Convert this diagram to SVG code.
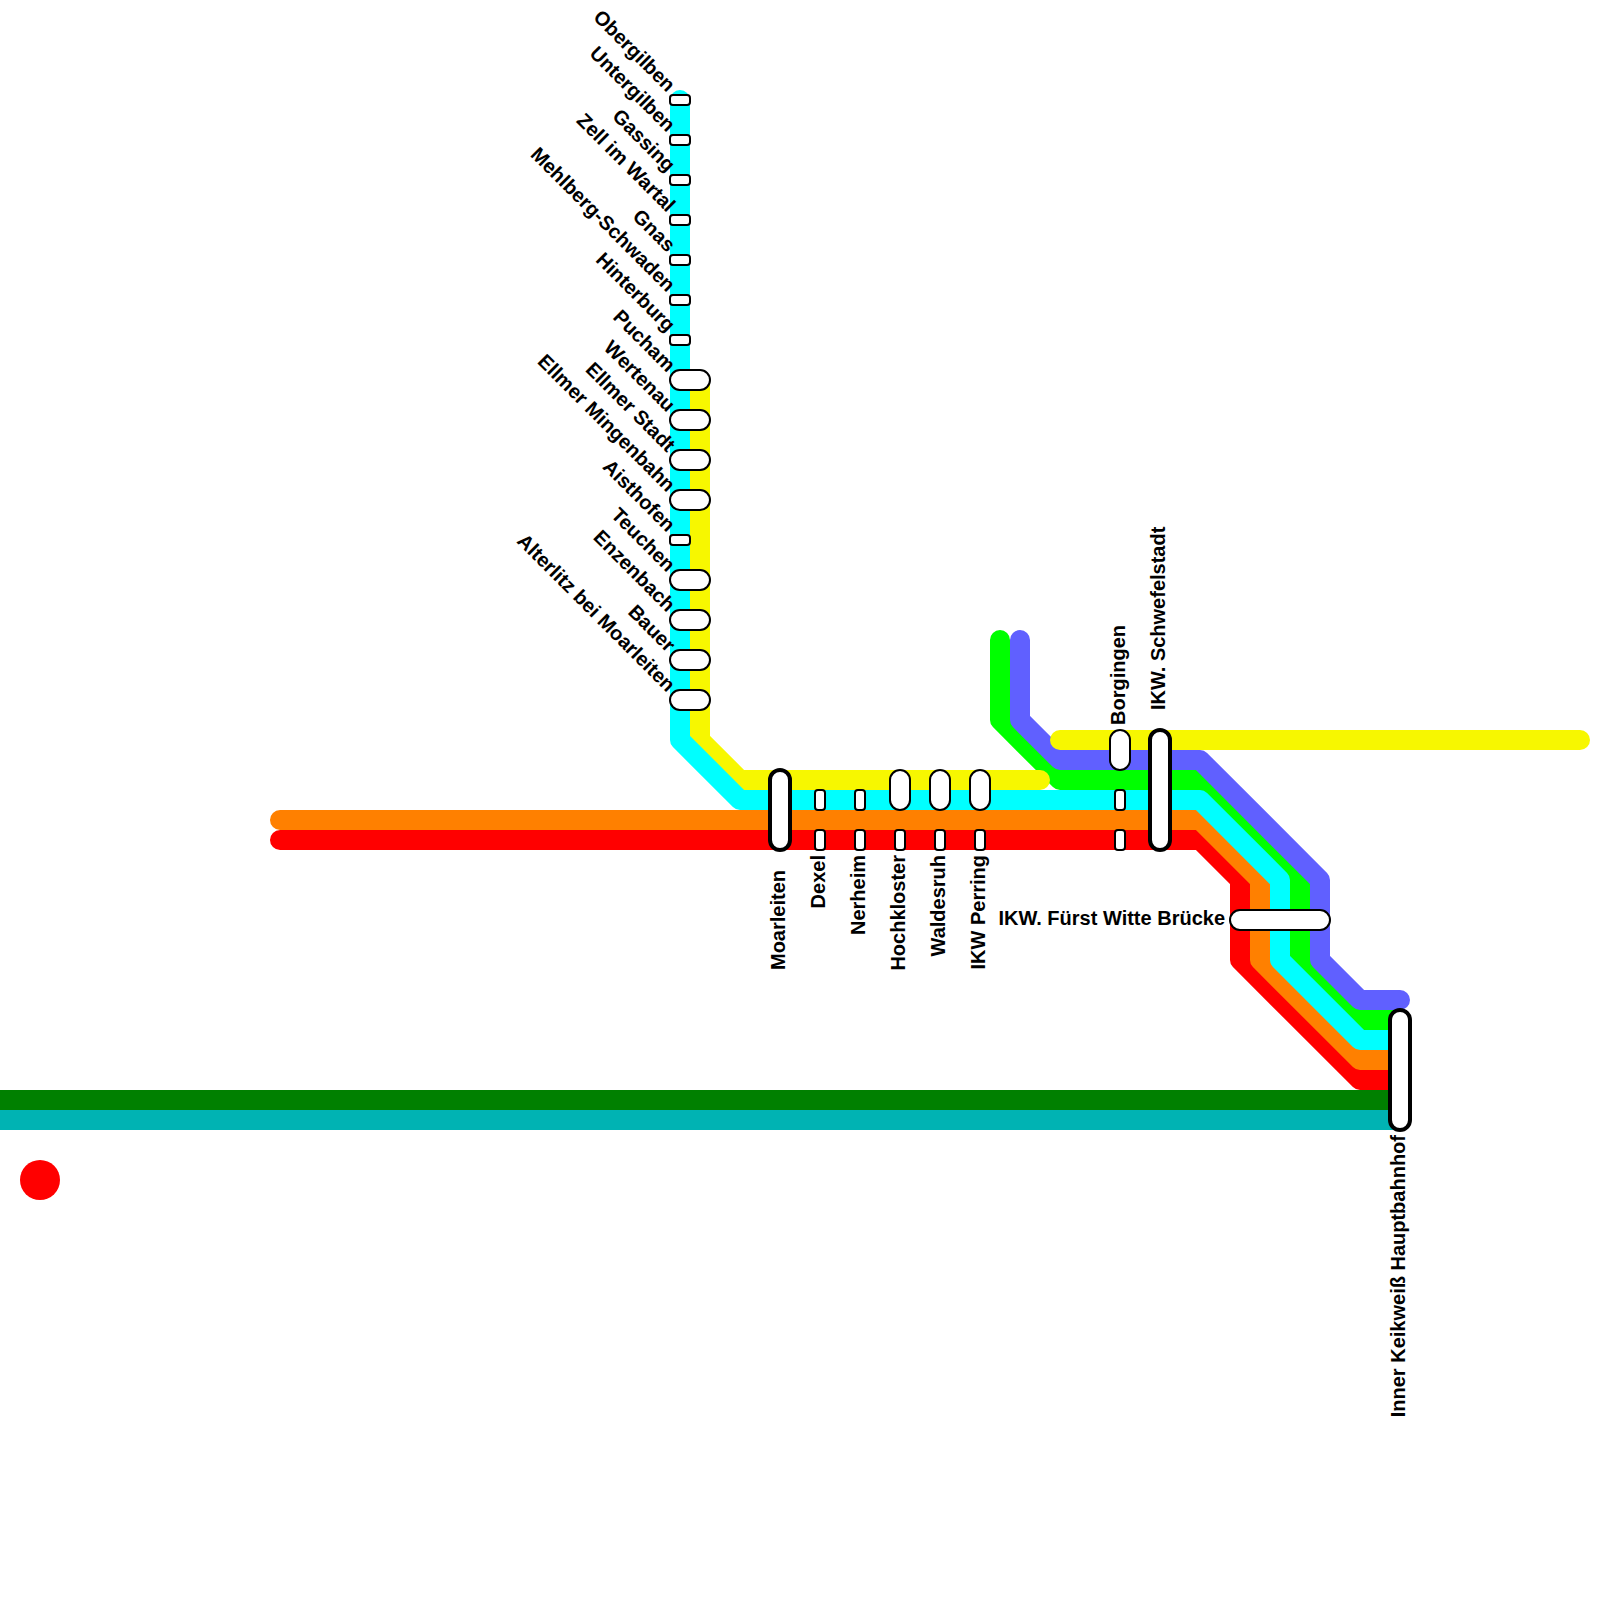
<svg xmlns="http://www.w3.org/2000/svg" width="1600" height="1600" viewBox="0 0 1600 1600">
<style>
.l{fill:none;stroke-width:20;stroke-linecap:round;stroke-linejoin:round}
.s{fill:#fff;stroke:#000;stroke-width:2}
.h{fill:#fff;stroke:#000;stroke-width:4}
text{font-family:"Liberation Sans",Arial,sans-serif;font-weight:700;font-size:20px;fill:#000}
.e{text-anchor:end}
</style>
<rect width="1600" height="1600" fill="#fff"/>
<g id="connectors">
<path class="l" stroke="#008000" style="stroke-linecap:butt" d="M0 1100H1400"/>
<path class="l" stroke="#00b3b3" style="stroke-linecap:butt" d="M0 1120H1400"/>
<path class="l" stroke="#f00" d="M280 840H1200L1240 880V960L1360 1080H1400"/>
<path class="l" stroke="#ff8000" d="M280 820H1200L1260 880V960L1360 1060H1400"/>
<path class="l" stroke="#0f0" d="M1000 640V720L1060 780H1200L1300 880V960L1360 1020H1400"/>
<path class="l" stroke="#f7f700" d="M700 380V740L740 780H1040"/>
<path class="l" stroke="#0ff" d="M680 100V740L740 800H1200L1280 880V960L1360 1040H1400"/>
<path class="l" stroke="#6060ff" d="M1020 640V720L1060 760H1200L1320 880V960L1360 1000H1400"/>
<path class="l" stroke="#f7f700" d="M1060 740H1580"/>
</g>
<circle id="marker-dot" cx="40" cy="1180" r="20" fill="#f00"/>
<g id="n-obergilben"><rect class="s" x="670" y="95" width="20" height="10" rx="3"/><text class="e" transform="translate(667 93) rotate(45)">Obergilben</text></g>
<g id="n-untergilben"><rect class="s" x="670" y="135" width="20" height="10" rx="3"/><text class="e" transform="translate(667 133) rotate(45)">Untergilben</text></g>
<g id="n-gassing"><rect class="s" x="670" y="175" width="20" height="10" rx="3"/><text class="e" transform="translate(667 173) rotate(45)">Gassing</text></g>
<g id="n-zell"><rect class="s" x="670" y="215" width="20" height="10" rx="3"/><text class="e" transform="translate(667 213) rotate(45)">Zell im Wartal</text></g>
<g id="n-gnas"><rect class="s" x="670" y="255" width="20" height="10" rx="3"/><text class="e" transform="translate(667 253) rotate(45)">Gnas</text></g>
<g id="n-mehlberg"><rect class="s" x="670" y="295" width="20" height="10" rx="3"/><text class="e" transform="translate(667 293) rotate(45)">Mehlberg-Schwaden</text></g>
<g id="n-hinterburg"><rect class="s" x="670" y="335" width="20" height="10" rx="3"/><text class="e" transform="translate(667 333) rotate(45)">Hinterburg</text></g>
<g id="n-pucham"><rect class="s" x="670" y="370" width="40" height="20" rx="10"/><text class="e" transform="translate(667 373) rotate(45)">Pucham</text></g>
<g id="n-wertenau"><rect class="s" x="670" y="410" width="40" height="20" rx="10"/><text class="e" transform="translate(667 413) rotate(45)">Wertenau</text></g>
<g id="n-ellmer-stadt"><rect class="s" x="670" y="450" width="40" height="20" rx="10"/><text class="e" transform="translate(667 453) rotate(45)">Ellmer Stadt</text></g>
<g id="n-ellmer-mingenbahn"><rect class="s" x="670" y="490" width="40" height="20" rx="10"/><text class="e" transform="translate(667 493) rotate(45)">Ellmer Mingenbahn</text></g>
<g id="n-aisthofen"><rect class="s" x="670" y="535" width="20" height="10" rx="3"/><text class="e" transform="translate(667 533) rotate(45)">Aisthofen</text></g>
<g id="n-teuchen"><rect class="s" x="670" y="570" width="40" height="20" rx="10"/><text class="e" transform="translate(667 573) rotate(45)">Teuchen</text></g>
<g id="n-enzenbach"><rect class="s" x="670" y="610" width="40" height="20" rx="10"/><text class="e" transform="translate(667 613) rotate(45)">Enzenbach</text></g>
<g id="n-bauer"><rect class="s" x="670" y="650" width="40" height="20" rx="10"/><text class="e" transform="translate(667 653) rotate(45)">Bauer</text></g>
<g id="n-alterlitz"><rect class="s" x="670" y="690" width="40" height="20" rx="10"/><text class="e" transform="translate(667 693) rotate(45)">Alterlitz bei Moarleiten</text></g>
<g id="n-moarleiten"><rect class="h" x="770" y="770" width="20" height="80" rx="10"/><text class="e" transform="translate(785 870) rotate(-90)">Moarleiten</text></g>
<g id="n-dexel"><rect class="s" x="815" y="790" width="10" height="20" rx="3"/><rect class="s" x="815" y="830" width="10" height="20" rx="3"/><text class="e" transform="translate(825 855) rotate(-90)">Dexel</text></g>
<g id="n-nerheim"><rect class="s" x="855" y="790" width="10" height="20" rx="3"/><rect class="s" x="855" y="830" width="10" height="20" rx="3"/><text class="e" transform="translate(865 855) rotate(-90)">Nerheim</text></g>
<g id="n-hochkloster"><rect class="s" x="890" y="770" width="20" height="40" rx="10"/><rect class="s" x="895" y="830" width="10" height="20" rx="3"/><text class="e" transform="translate(905 855) rotate(-90)">Hochkloster</text></g>
<g id="n-waldesruh"><rect class="s" x="930" y="770" width="20" height="40" rx="10"/><rect class="s" x="935" y="830" width="10" height="20" rx="3"/><text class="e" transform="translate(945 855) rotate(-90)">Waldesruh</text></g>
<g id="n-perring"><rect class="s" x="970" y="770" width="20" height="40" rx="10"/><rect class="s" x="975" y="830" width="10" height="20" rx="3"/><text class="e" transform="translate(985 855) rotate(-90)">IKW Perring</text></g>
<g id="n-borgingen"><rect class="s" x="1110" y="730" width="20" height="40" rx="10"/><rect class="s" x="1115" y="790" width="10" height="20" rx="3"/><rect class="s" x="1115" y="830" width="10" height="20" rx="3"/><text transform="translate(1125 725) rotate(-90)">Borgingen</text></g>
<g id="n-schwefelstadt"><rect class="h" x="1150" y="730" width="20" height="120" rx="10"/><text transform="translate(1165 710) rotate(-90)">IKW. Schwefelstadt</text></g>
<g id="n-fuerst-witte"><rect class="s" x="1230" y="910" width="100" height="20" rx="10"/><text class="e" x="1225" y="925">IKW. Fürst Witte Brücke</text></g>
<g id="n-hauptbahnhof"><rect class="h" x="1390" y="1010" width="20" height="120" rx="10"/><text class="e" transform="translate(1405 1135) rotate(-90)">Inner Keikweiß Hauptbahnhof</text></g>
</svg>
